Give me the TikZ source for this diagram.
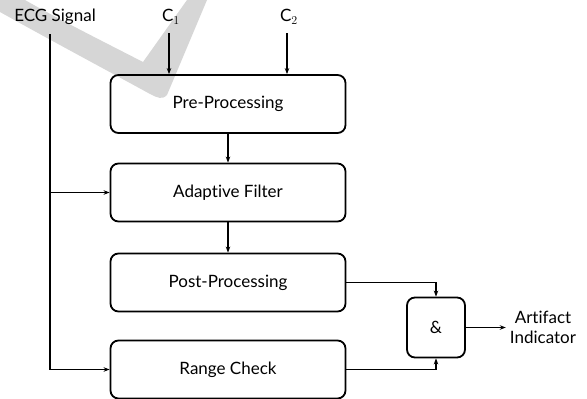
\documentclass[tikz,border=0pt]{standalone}
\usepackage{fontspec}
\setmainfont{Lato}[Ligatures={NoCommon,NoContextual}]
\usetikzlibrary{arrows.meta}
\begin{document}
\begin{tikzpicture}[x=1pt,y=-1pt,
  box/.style={draw,line width=1.8pt,rounded corners=8pt,minimum width=235pt,minimum height=58pt,inner sep=0pt,font=\fontsize{17}{20}\selectfont},
  gate/.style={draw,line width=1.8pt,rounded corners=8pt,minimum width=58pt,minimum height=60pt,inner sep=0pt,font=\fontsize{17}{20}\selectfont},
  lbl/.style={font=\fontsize{17}{20}\selectfont,inner sep=1pt},
  conn/.style={line width=1.6pt,-{Stealth[length=6pt,width=4.5pt]}},
  wire/.style={line width=1.6pt}]
\useasboundingbox (0,0) rectangle (587,399);
% watermark
\fill[gray!32] (0,0) -- (25,0) .. controls (60,20) and (110,45) .. (143,62) -- (187,0) -- (207,0) -- (167,95) .. controls (162,100) and (158,98) .. (150,94) .. controls (110,72) and (50,40) .. (0,12) -- cycle;
% nodes
\node[lbl] (ecg) at (55,17) {ECG Signal};
\node[lbl] (c1) at (171,17) {C$_1$};
\node[lbl] (c2) at (289,17) {C$_2$};
\coordinate (etop) at (50,34);
\node[box] (pre) at (228,104) {Pre-Processing};
\node[box] (adapt) at (228,192.5) {Adaptive Filter};
\node[box] (post) at (228,282.5) {Post-Processing};
\node[box] (range) at (228,369.5) {Range Check};
\node[gate] (and) at (436,327.5) {\&};
\node[lbl,align=center,inner sep=4pt] (ai) at (543,327.5) {Artifact\\Indicator};
% connectors
\coordinate (c1b) at (169,33);
\coordinate (c2b) at (287,33);
\draw[conn] (c1b) -- (c1b |- pre.north);
\draw[conn] (c2b) -- (c2b |- pre.north);
\draw[conn] (pre) -- (adapt);
\draw[conn] (adapt) -- (post);
\draw[wire] (etop) -- (etop |- range.west);
\draw[conn] (etop |- adapt.west) -- (adapt.west);
\draw[conn] (etop |- range.west) -- (range.west);
\draw[conn] (post.east) -| (and.north);
\draw[conn] (range.east) -| (and.south);
\draw[conn] (and.east) -- (ai.west);
\end{tikzpicture}
\end{document}
